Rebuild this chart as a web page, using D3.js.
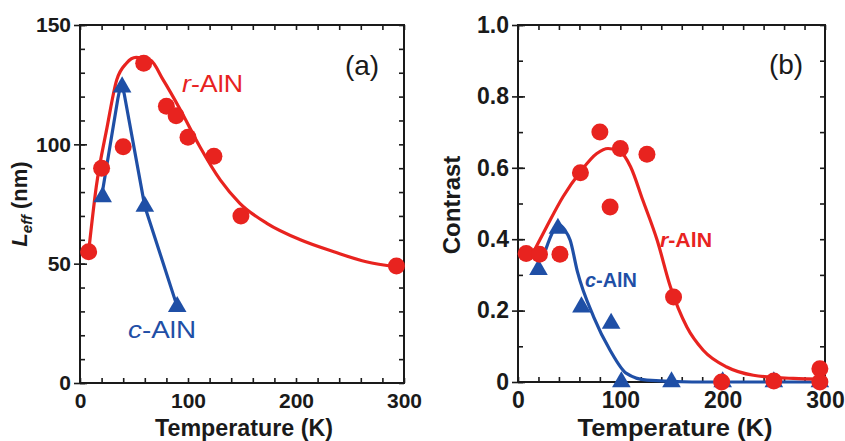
<!DOCTYPE html>
<html>
<head>
<meta charset="utf-8">
<script src="https://cdn.jsdelivr.net/npm/d3@7"></script>
<style>
  body { margin: 0; background: #fff; }
  svg text { font-family: "Liberation Sans", Arial, sans-serif; }
</style>
</head>
<body>
<div class="chart"></div>
<script>
// Data
// panel (a): effective length vs temperature
const tempA_r = [8, 20, 40, 59, 80, 89, 100, 124, 149, 293];
const leffA_r = [55, 90, 99, 134, 116, 112, 103, 95, 70, 49];
const tempA_c = [21, 39, 60, 90];
const leffA_c = [78, 124, 74, 32];
// fit lines (a)
const fitTempA_r = [8, 15, 25, 34, 43, 52, 65, 77, 93, 111, 130, 148, 173, 204, 235, 265, 293];
const fitLeffA_r = [55, 82, 107, 127, 134, 136.4, 135.3, 127, 114.4, 99, 85, 75.3, 66.9, 60, 55, 50.8, 48.7];
const fitTempA_c = [20, 35, 37, 39, 41, 60, 90];
const fitLeffA_c = [78, 119, 123.5, 124.5, 121, 74, 32];

// panel (b): contrast vs temperature
const tempB_r = [8, 21, 41, 61, 80, 90, 100, 126, 152, 199, 250, 295, 295];
const conB_r = [0.36, 0.358, 0.358, 0.586, 0.70, 0.49, 0.654, 0.638, 0.238, 0, 0.003, 0.037, 0];
const tempB_c = [20, 39, 62, 91, 101, 150, 200, 250, 295];
const conB_c = [0.315, 0.43, 0.21, 0.164, 0, 0, 0, 0, 0];
// fit lines (b)
const fitTempB_r = [16, 28, 44, 61, 77, 88, 100, 110, 122, 136, 149, 165, 181, 204, 230, 269, 298];
const fitConB_r = [0.369, 0.435, 0.519, 0.589, 0.64, 0.654, 0.645, 0.603, 0.509, 0.397, 0.266, 0.154, 0.089, 0.042, 0.019, 0.01, 0.008];
const fitTempB_c = [27, 34, 40, 46, 51, 58, 74, 90, 106, 126, 170, 300];
const fitConB_c = [0.37, 0.42, 0.44, 0.425, 0.397, 0.31, 0.182, 0.089, 0.024, 0.005, 0, 0];

// ticks
const xMajor = [0, 100, 200, 300];
const yMajorA = [0, 50, 100, 150];
const yMajorB = [0, 0.2, 0.4, 0.6, 0.8, 1.0];
const yTickLabelsB = ["0", "0.2", "0.4", "0.6", "0.8", "1.0"];

const RED = "#e8231f";
const BLUE = "#1f4fa6";
const INK = "#1a1a1a";

const svg = d3.select(".chart").append("svg")
    .attr("width", 845)
    .attr("height", 441);

function zip(a, b) { return a.map((v, i) => [v, b[i]]); }

function drawPanel(p) {
    const x = d3.scaleLinear().domain([0, 300]).range([p.left, p.right]);
    const y = d3.scaleLinear().domain(p.yDomain).range([p.bottom, p.top]);
    const g = svg.append("g");

    const xMinor = d3.range(0, 301, 20);
    const yMinor = d3.range(p.yDomain[0], p.yDomain[1] + p.yMinorStep / 2, p.yMinorStep);

    // inward ticks on all four sides
    const inward = [
        [d3.axisRight(y).tickValues(yMinor), `translate(${p.left},0)`],
        [d3.axisLeft(y).tickValues(yMinor), `translate(${p.right},0)`],
        [d3.axisBottom(x).tickValues(xMinor), `translate(0,${p.top})`],
        [d3.axisTop(x).tickValues(xMinor), `translate(0,${p.bottom})`]
    ];
    inward.forEach(([ax, tr]) => {
        g.append("g").attr("transform", tr)
            .call(ax.tickSize(5).tickFormat(""))
            .call(s => s.select(".domain").remove())
            .selectAll("line").attr("stroke", INK).attr("stroke-width", 1.6);
    });

    // left axis: major ticks crossing + labels
    g.append("g").attr("transform", `translate(${p.left},0)`)
        .call(d3.axisLeft(y).tickValues(p.yMajor).tickSize(6).tickPadding(3)
            .tickFormat((d, i) => p.yLabels[i]))
        .call(s => s.select(".domain").remove())
        .call(s => s.selectAll("line").attr("stroke", INK).attr("stroke-width", 1.6).attr("x2", -6).attr("x1", 7))
        .call(s => s.selectAll("text").attr("fill", INK)
            .style("font-size", p.tickFont + "px").style("font-weight", "bold"));

    // bottom labels
    g.append("g").attr("transform", `translate(0,${p.bottom})`)
        .call(d3.axisBottom(x).tickValues(xMajor).tickSize(0).tickPadding(p.xPad))
        .call(s => s.select(".domain").remove())
        .call(s => s.selectAll("text").attr("fill", INK)
            .style("font-size", p.tickFont + "px").style("font-weight", "bold"));

    // frame
    g.append("rect")
        .attr("x", p.left).attr("y", p.top)
        .attr("width", p.right - p.left).attr("height", p.bottom - p.top)
        .attr("fill", "none").attr("stroke", INK).attr("stroke-width", 2);

    const plot = g.append("g");
    p.series.forEach(s => {
        const line = d3.line().x(d => x(d[0])).y(d => y(d[1])).curve(s.curve);
        plot.append("path")
            .datum(zip(s.fitX, s.fitY))
            .attr("d", line)
            .attr("fill", "none")
            .attr("stroke", s.color)
            .attr("stroke-width", 3.2)
            .attr("stroke-linejoin", "round");
    });
    p.series.forEach(s => {
        const pts = zip(s.x, s.y);
        if (s.shape === "circle") {
            plot.selectAll(null).data(pts).enter().append("circle")
                .attr("cx", d => x(d[0])).attr("cy", d => y(d[1]))
                .attr("r", 8.5).attr("fill", s.color);
        } else {
            plot.selectAll(null).data(pts).enter().append("path")
                .attr("d", d3.symbol(d3.symbolTriangle, 150))
                .attr("transform", d => `translate(${x(d[0])},${y(d[1])})`)
                .attr("fill", s.color);
        }
    });

    // series labels
    p.labels.forEach(l => {
        const t = g.append("text")
            .attr("x", l.x).attr("y", l.y)
            .attr("fill", l.color)
            .style("font-size", l.size + "px")
            .style("font-weight", l.weight)
            .attr("textLength", l.len).attr("lengthAdjust", "spacingAndGlyphs");
        t.append("tspan").style("font-style", "italic").text(l.prefix);
        t.append("tspan").text("-AlN");
    });

    // panel tag
    g.append("text")
        .attr("x", p.tag.x).attr("y", p.tag.y)
        .attr("text-anchor", "middle")
        .attr("fill", INK)
        .style("font-size", "28px")
        .text(p.tag.text);

    // x title
    g.append("text")
        .attr("x", p.xTitle.x).attr("y", p.xTitle.y)
        .attr("text-anchor", "middle")
        .attr("fill", INK)
        .style("font-size", p.xTitle.size + "px").style("font-weight", "bold")
        .attr("textLength", p.xTitle.len).attr("lengthAdjust", "spacingAndGlyphs")
        .text("Temperature (K)");

    return g;
}

// panel (a)
const ga = drawPanel({
    left: 80, right: 404, top: 25, bottom: 383,
    yDomain: [0, 150], yMinorStep: 10,
    yMajor: yMajorA, yLabels: yMajorA.map(String),
    tickFont: 21, xPad: 10,
    series: [
        { x: tempA_c, y: leffA_c, fitX: fitTempA_c, fitY: fitLeffA_c, color: BLUE, shape: "triangle", curve: d3.curveLinear },
        { x: tempA_r, y: leffA_r, fitX: fitTempA_r, fitY: fitLeffA_r, color: RED, shape: "circle", curve: d3.curveMonotoneX }
    ],
    labels: [
        { prefix: "r", x: 182, y: 92, size: 24, weight: "normal", color: RED, len: 61 },
        { prefix: "c", x: 128, y: 338, size: 24, weight: "normal", color: BLUE, len: 68 }
    ],
    tag: { text: "(a)", x: 362, y: 75 },
    xTitle: { x: 244, y: 436, size: 23, len: 178 }
});

// y title (a)
const ya = ga.append("text")
    .attr("transform", "translate(27,204) rotate(-90)")
    .attr("text-anchor", "middle")
    .attr("fill", INK)
    .style("font-size", "22px").style("font-weight", "bold");
ya.append("tspan").style("font-style", "italic").text("L");
ya.append("tspan").style("font-style", "italic").style("font-size", "15px").attr("dy", 5).text("eff");
ya.append("tspan").attr("dy", -5).text(" (nm)");

// panel (b)
const gb = drawPanel({
    left: 518, right: 825, top: 25, bottom: 382,
    yDomain: [0, 1], yMinorStep: 0.1,
    yMajor: yMajorB, yLabels: yTickLabelsB,
    tickFont: 23, xPad: 10,
    series: [
        { x: tempB_c, y: conB_c, fitX: fitTempB_c, fitY: fitConB_c, color: BLUE, shape: "triangle", curve: d3.curveMonotoneX },
        { x: tempB_r, y: conB_r, fitX: fitTempB_r, fitY: fitConB_r, color: RED, shape: "circle", curve: d3.curveMonotoneX }
    ],
    labels: [
        { prefix: "r", x: 660, y: 247, size: 20, weight: "bold", color: RED, len: 52 },
        { prefix: "c", x: 585, y: 287, size: 20, weight: "bold", color: BLUE, len: 52 }
    ],
    tag: { text: "(b)", x: 786, y: 74 },
    xTitle: { x: 675, y: 436, size: 24, len: 195 }
});

gb.append("text")
    .attr("transform", "translate(460,205) rotate(-90)")
    .attr("text-anchor", "middle")
    .attr("fill", INK)
    .style("font-size", "24px").style("font-weight", "bold")
    .text("Contrast");
</script>
</body>
</html>
